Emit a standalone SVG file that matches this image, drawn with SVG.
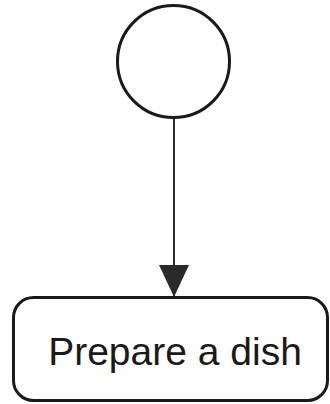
<svg xmlns="http://www.w3.org/2000/svg" width="330" height="404" viewBox="0 0 330 404">
  <style>
    .node { fill: #ffffff; stroke: #1a1a1a; stroke-width: 3; }
    .label { font-family: "Liberation Sans", Arial, sans-serif; font-size: 39px; fill: #1a1a1a; }
    .edge { stroke: #2a2a2a; stroke-width: 2; fill: none; }
  </style>
  <defs>
    <marker id="arrow" markerUnits="userSpaceOnUse" markerWidth="32" markerHeight="30" refX="32" refY="15" orient="auto">
      <path d="M0,0 L32,15 L0,30 Z" fill="#2a2a2a"/>
    </marker>
  </defs>
  <rect width="330" height="404" fill="#ffffff"/>
  <g id="connectors">
    <line class="edge" x1="174" y1="118" x2="174" y2="297" marker-end="url(#arrow)"/>
  </g>
  <g id="start">
    <circle class="node" cx="173.5" cy="61.5" r="56"/>
  </g>
  <g id="prepare-dish">
    <rect class="node" x="13.5" y="297.5" width="314" height="103" rx="20" ry="20"/>
    <text class="label" x="175" y="365" text-anchor="middle">Prepare a dish</text>
  </g>
</svg>
